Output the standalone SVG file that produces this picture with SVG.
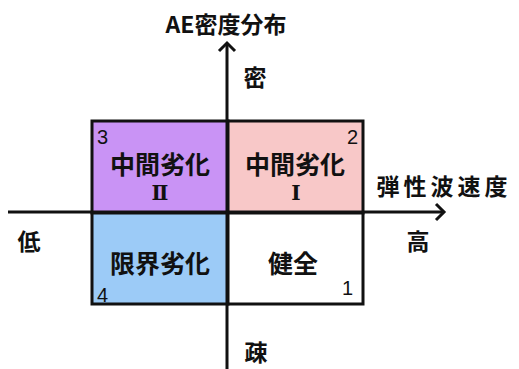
<svg xmlns="http://www.w3.org/2000/svg" width="519" height="369" viewBox="0 0 519 369">
<style>
.lbl{font-family:"Noto Sans CJK JP","Noto Sans CJK SC",sans-serif;font-weight:bold;fill:#111;}
.num{font-family:"Liberation Sans",Arial,sans-serif;font-size:20px;fill:#111;}
.rom{font-family:"DejaVu Serif","Liberation Serif",serif;font-size:20px;font-weight:bold;fill:#111;}
.cell{stroke:#111;stroke-width:3;}
.axis{stroke:#111;stroke-width:3;fill:none;}
</style>
<rect width="519" height="369" fill="#fff"/>
<g id="q3"><rect class="cell" x="92" y="121" width="136" height="92" fill="#c993f5"/>
<text class="num" x="97" y="144">3</text>
<text class="lbl" x="160" y="174" font-size="25" text-anchor="middle">中間劣化</text>
<text class="rom" x="160" y="200" text-anchor="middle">Ⅱ</text></g>
<g id="q2"><rect class="cell" x="228" y="121" width="135" height="92" fill="#f8c8c8"/>
<text class="num" x="347" y="144">2</text>
<text class="lbl" x="295" y="174" font-size="25" text-anchor="middle">中間劣化</text>
<text class="rom" x="296" y="200" text-anchor="middle">Ⅰ</text></g>
<g id="q4"><rect class="cell" x="92" y="213" width="136" height="91" fill="#9ccbf7"/>
<text class="num" x="97" y="302">4</text>
<text class="lbl" x="160" y="273" font-size="25" text-anchor="middle">限界劣化</text></g>
<g id="q1"><rect class="cell" x="228" y="213" width="135" height="91" fill="#fff"/>
<text class="num" x="342" y="295">1</text>
<text class="lbl" x="293" y="273" font-size="25" text-anchor="middle">健全</text></g>
<g id="connectors">
<path class="axis" d="M8 212 H444"/>
<path class="axis" d="M436 204 L444 212 L436 220"/>
<path class="axis" d="M227 369 V43"/>
<path class="axis" d="M219 51 L227 43 L235 51"/>
</g>
<g id="labels">
<text class="lbl" x="226" y="33" font-size="23" text-anchor="middle">AE密度分布</text>
<text class="lbl" x="255" y="86" font-size="23" text-anchor="middle">密</text>
<text class="lbl" x="444" y="195" font-size="23" text-anchor="middle" letter-spacing="4">弾性波速度</text>
<text class="lbl" x="29" y="250" font-size="23" text-anchor="middle">低</text>
<text class="lbl" x="418" y="250" font-size="23" text-anchor="middle">高</text>
<text class="lbl" x="256" y="361" font-size="23" text-anchor="middle">疎</text>
</g>
</svg>
